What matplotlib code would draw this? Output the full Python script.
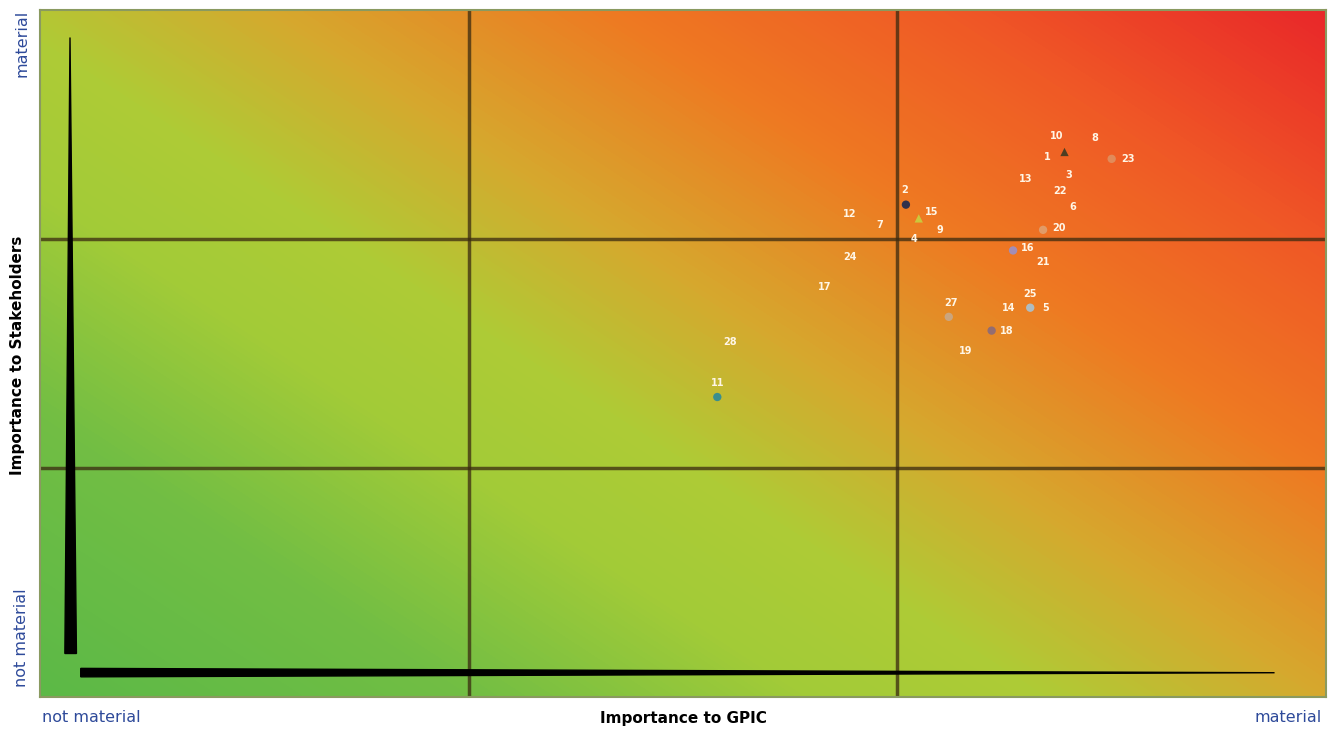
import numpy as np
import matplotlib.pyplot as plt
from matplotlib.colors import LinearSegmentedColormap
from matplotlib.patches import Polygon

# Materiality issues: label, importance to GPIC (x), importance to stakeholders (y), scale 0-3
labels = ['10', '8', '1', '23', '3', '13', '22', '6', '20', '2', '15', '12', '7', '9',
          '4', '24', '17', '16', '21', '25', '14', '5', '27', '18', '19', '28', '11']
gpic = [2.39, 2.46, 2.35, 2.50, 2.40, 2.30, 2.38, 2.41, 2.34, 2.02, 2.05, 1.89, 1.96, 2.10,
        2.04, 1.89, 1.83, 2.27, 2.34, 2.31, 2.26, 2.31, 2.12, 2.22, 2.16, 1.61, 1.58]
stake = [2.38, 2.44, 2.36, 2.35, 2.28, 2.26, 2.21, 2.14, 2.04, 2.15, 2.09, 2.11, 2.06, 2.04,
         2.00, 1.92, 1.79, 1.95, 1.90, 1.76, 1.70, 1.70, 1.66, 1.60, 1.51, 1.55, 1.31]

# label offsets in pixels (right, down) and visible marker styles
offsets = {'10': (-8, -16), '23': (16, 0), '20': (16, -2), '2': (-1, -15), '15': (13, -6),
           '16': (15, -2), '18': (15, 0), '27': (2, -14), '11': (0, -14), '5': (15, 0)}
markers = {'10': ('^', '#3c3a22'), '2': ('o', '#1c2850'), '15': ('^', '#c8d040'),
           '11': ('o', '#2a8a9a'), '5': ('o', '#a8c4d4'), '16': ('o', '#9a90c8'),
           '18': ('o', '#8a6a7a'), '23': ('o', '#e09060'), '20': ('o', '#e0a070'),
           '27': ('o', '#c8a888')}

fig = plt.figure(figsize=(13.4, 7.31), dpi=100)
ax = fig.add_axes([40/1340, 1 - 697/731, 1286/1340, 687/731])

# gradient background
gx, gy = np.meshgrid(np.linspace(0, 3, 300), np.linspace(0, 3, 200))
s = (gx + gy) / 6 + 0.05 * (gx - gy) / 3
cmap = LinearSegmentedColormap.from_list('mat', [
    (0.0, '#5cb947'), (0.18, '#72be44'), (0.32, '#a2cb38'), (0.42, '#aecc36'),
    (0.54, '#d6a82e'), (0.68, '#ee7a22'), (0.82, '#f05a26'), (1.0, '#e8222a')])
ax.imshow(s, origin='lower', extent=[0, 3, 0, 3], cmap=cmap, vmin=0, vmax=1.02,
          aspect='auto', interpolation='bilinear', zorder=0)

# grid
for v in [1, 2]:
    ax.axvline(v, color='#3a2a10', lw=2.5, alpha=0.75, zorder=1)
    ax.axhline(v, color='#3a2a10', lw=2.5, alpha=0.75, zorder=1)

# tapered arrows
ax.add_patch(Polygon([(0.058, 0.19), (0.085, 0.19), (0.070, 2.88)], closed=True,
                     color='black', zorder=2))
ax.add_patch(Polygon([(0.095, 0.088), (0.095, 0.125), (2.88, 0.106)], closed=True,
                     color='black', zorder=2))

for lab, x, y in zip(labels, gpic, stake):
    if lab in markers:
        m, c = markers[lab]
        ax.scatter(x, y, marker=m, s=36, color=c, edgecolor='none', alpha=0.9, zorder=3)
    dx, dy = offsets.get(lab, (0, 0))
    ax.annotate(lab, (x, y), xytext=(dx * 0.72, -dy * 0.72), textcoords='offset points',
                ha='center', va='center', fontsize=7, fontweight='bold', color='#fff6e6',
                zorder=4)

ax.set_xlim(0, 3)
ax.set_ylim(0, 3)
ax.set_xticks([])
ax.set_yticks([])
for sp in ax.spines.values():
    sp.set_color('#8a9a60')
    sp.set_linewidth(1.5)

blue = '#2e4a9a'
fig.text(22/1340, 1 - 10/731, 'material', rotation=90, ha='center', va='top', color=blue, fontsize=11.5)
fig.text(22/1340, 1 - 687/731, 'not material', rotation=90, ha='center', va='bottom', color=blue, fontsize=11.5)
fig.text(18/1340, 1 - 355/731, 'Importance to Stakeholders', rotation=90, ha='center', va='center',
         color='black', fontsize=11, fontweight='bold')
fig.text(42/1340, 1 - 718/731, 'not material', ha='left', va='center', color=blue, fontsize=11.5)
fig.text(1322/1340, 1 - 718/731, 'material', ha='right', va='center', color=blue, fontsize=11.5)
fig.text(683/1340, 1 - 718/731, 'Importance to GPIC', ha='center', va='center', color='black',
         fontsize=11, fontweight='bold')

fig.savefig('out.png', dpi=100)
